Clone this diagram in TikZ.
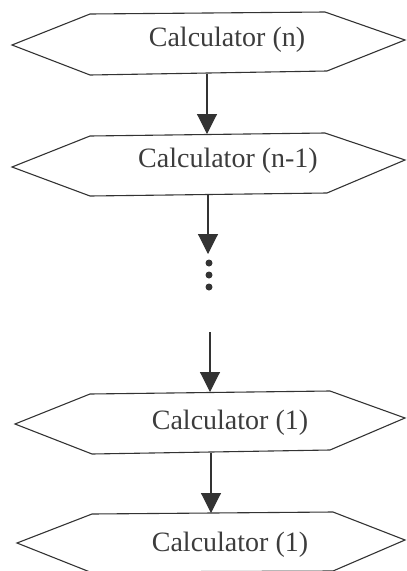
\documentclass[tikz,border=0pt]{standalone}
\usepackage{fontspec}
\setmainfont{Liberation Serif}
\usetikzlibrary{arrows.meta}
\definecolor{ink}{HTML}{333333}
\definecolor{txt}{HTML}{3C3C3C}
\tikzset{
  hexline/.style={draw=ink, line width=1.1pt, line join=miter},
  flow/.style={draw=ink, line width=1.1pt, -{Triangle[length=20pt,width=20pt]}},
  lbl/.style={text=txt, font=\fontsize{28}{31}\selectfont, inner sep=0pt},
  dotnode/.style={circle, fill=ink, inner sep=0pt, minimum size=7pt}
}
\begin{document}
\begin{tikzpicture}[x=1pt, y=-1pt]
\useasboundingbox (0,0) rectangle (407,571);
% hexagon 1
\draw[hexline] (12,45) -- (90,14) -- (325,12) -- (405,40) -- (327,71) -- (90,75) -- cycle;
\node[lbl] (t1) at (227,40) {Calculator (n)};
\coordinate (h1b) at (207,74);
% hexagon 2
\draw[hexline] (12,167) -- (90,136) -- (325,133) -- (405,160) -- (327,193) -- (90,196) -- cycle;
\node[lbl] (t2) at (228,161) {Calculator (n-1)};
\coordinate (h2t) at (207,134);
\coordinate (h2b) at (208,195);
% dots
\coordinate (a2e) at (208,254);
\node[dotnode] (d1) at (209,263) {};
\node[dotnode] (d2) at (209,275) {};
\node[dotnode] (d3) at (209,287) {};
\coordinate (a3s) at (210,332);
% hexagon 3
\draw[hexline] (15,424) -- (90,394) -- (330,391) -- (405,418) -- (330,450) -- (92,454) -- cycle;
\node[lbl] (t3) at (230,423) {Calculator (1)};
\coordinate (h3t) at (210,392);
\coordinate (h3b) at (211,453);
% hexagon 4
\draw[hexline] (17,543) -- (92,514) -- (333,512) -- (405,540) -- (333,571) -- (90,572) -- cycle;
\node[lbl] (t4) at (230,545) {Calculator (1)};
\coordinate (h4t) at (211,513);
% arrows
\draw[flow] (h1b) -- (h2t);
\draw[flow] (h2b) -- (a2e);
\draw[flow] (a3s) -- (h3t);
\draw[flow] (h3b) -- (h4t);
\end{tikzpicture}
\end{document}
